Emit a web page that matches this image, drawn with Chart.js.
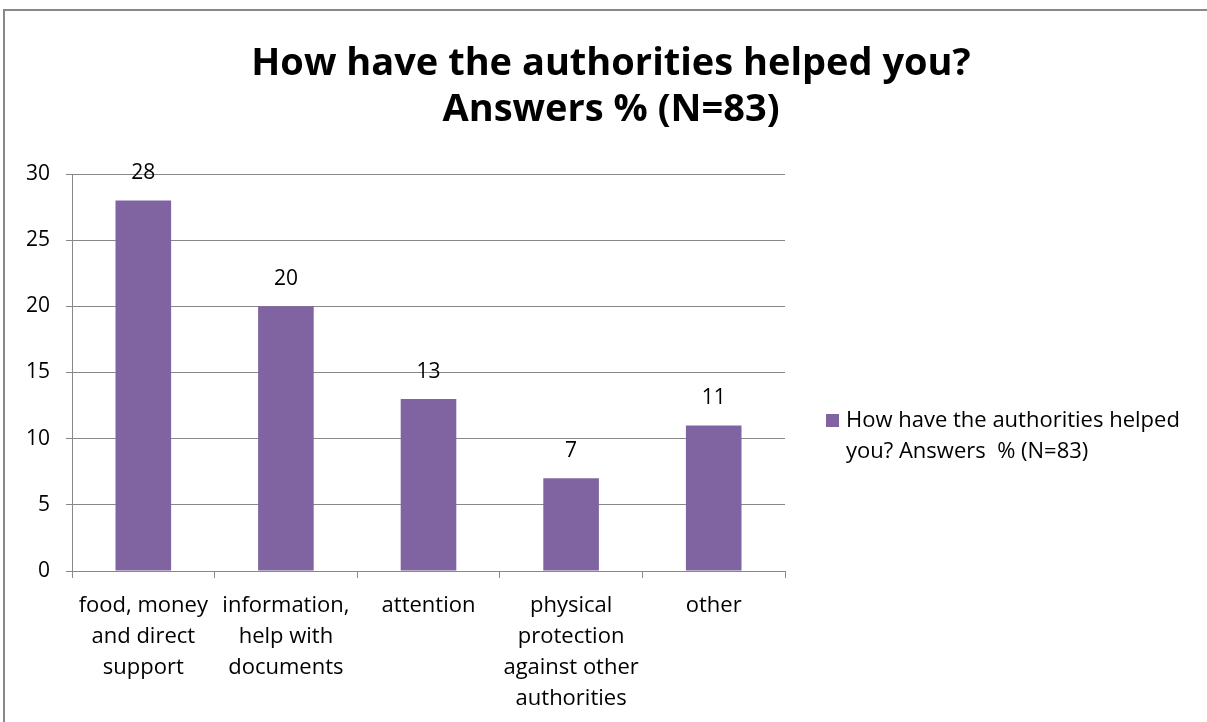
<!DOCTYPE html>
<html>
<head>
<meta charset="utf-8">
<script src="https://cdn.jsdelivr.net/npm/chart.js@4"></script>
<style>
html, body { margin: 0; padding: 0; background: #fff; }
</style>
</head>
<body>
<canvas id="chart" width="1207" height="722"></canvas>
<script>
const categories = [
  ["food, money", "and direct", "support"],
  ["information,", "help with", "documents"],
  ["attention"],
  ["physical", "protection", "against other", "authorities"],
  ["other"]
];
const values = [28, 20, 13, 7, 11];
const seriesName = "How have the authorities helped you? Answers  % (N=83)";
const legendLines = ["How have the authorities helped", "you? Answers  % (N=83)"];
const titleLines = ["How have the authorities helped you?", "Answers % (N=83)"];
const yMin = 0, yMax = 30, yStep = 5;

const fontFamily = "'Open Sans', Lato, sans-serif";
const barColor = '#8064A2';
const gridColor = '#888888';

// frame around the whole chart (only top and left edges show)
const framePlugin = {
  id: 'frame',
  beforeDraw(chart) {
    const ctx = chart.ctx;
    ctx.save();
    ctx.fillStyle = '#fff';
    ctx.fillRect(0, 0, chart.width, chart.height);
    ctx.strokeStyle = '#888';
    ctx.lineWidth = 2;
    ctx.beginPath();
    ctx.moveTo(4, chart.height);
    ctx.lineTo(4, 10);
    ctx.lineTo(chart.width, 10);
    ctx.stroke();
    ctx.restore();
  }
};

// two-line title centred over the whole chart
const bigTitle = {
  id: 'bigTitle',
  afterDraw(chart) {
    const ctx = chart.ctx;
    ctx.save();
    ctx.font = 'bold 38px ' + fontFamily;
    ctx.fillStyle = '#000';
    ctx.textAlign = 'center';
    ctx.textBaseline = 'alphabetic';
    titleLines.forEach((line, i) => {
      ctx.fillText(line, 611, 75 + i * 46);
    });
    ctx.restore();
  }
};

// value labels above bars
const barLabels = {
  id: 'barLabels',
  afterDatasetsDraw(chart) {
    const ctx = chart.ctx;
    const meta = chart.getDatasetMeta(0);
    ctx.save();
    ctx.font = '21px ' + fontFamily;
    ctx.fillStyle = '#000';
    ctx.textAlign = 'center';
    ctx.textBaseline = 'middle';
    meta.data.forEach((bar, i) => {
      ctx.fillText(chart.data.datasets[0].data[i], bar.x, bar.y - 27);
    });
    ctx.restore();
  }
};

// legend to the right, text wrapped on two lines
const sideLegend = {
  id: 'sideLegend',
  afterDraw(chart) {
    const ctx = chart.ctx;
    const area = chart.chartArea;
    const x = area.right + 41;
    const y = area.top + 240;
    ctx.save();
    ctx.fillStyle = barColor;
    ctx.fillRect(x, y, 13, 13);
    ctx.font = '22px ' + fontFamily;
    ctx.fillStyle = '#000';
    ctx.textAlign = 'left';
    ctx.textBaseline = 'middle';
    legendLines.forEach((line, i) => {
      ctx.fillText(line, x + 20, y + 7 + i * 31);
    });
    ctx.restore();
  }
};

new Chart(document.getElementById('chart'), {
  type: 'bar',
  data: {
    labels: categories,
    datasets: [{
      label: seriesName,
      data: values,
      backgroundColor: barColor,
      borderWidth: 0,
      barPercentage: 0.39,
      categoryPercentage: 1
    }]
  },
  options: {
    responsive: false,
    animation: false,
    layout: {
      padding: { left: 0, right: 422, top: 174, bottom: 0 }
    },
    plugins: {
      legend: { display: false },
      tooltip: { enabled: false },
      title: { display: false }
    },
    scales: {
      y: {
        min: yMin,
        max: yMax,
        afterFit(scale) { scale.width = 72; },
        ticks: {
          stepSize: yStep,
          color: '#000',
          padding: 16,
          font: { family: fontFamily, size: 21 }
        },
        grid: { color: gridColor, tickLength: 6, drawTicks: true },
        border: { display: true, color: gridColor }
      },
      x: {
        afterFit(scale) { scale.height = 151; },
        ticks: {
          color: '#000',
          padding: 12,
          maxRotation: 0,
          autoSkip: false,
          font: { family: fontFamily, size: 22, lineHeight: '31px' }
        },
        grid: { drawOnChartArea: false, color: gridColor, tickLength: 7, offset: true },
        border: { display: true, color: gridColor }
      }
    }
  },
  plugins: [framePlugin, bigTitle, barLabels, sideLegend]
});
</script>
</body>
</html>
